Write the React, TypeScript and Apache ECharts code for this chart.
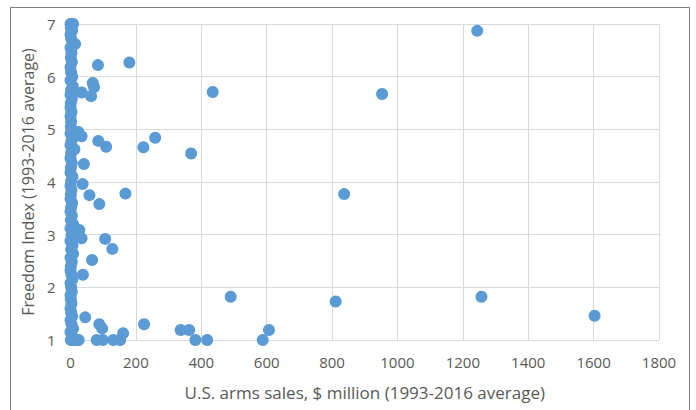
import React, { useEffect, useRef } from "react";
import * as echarts from "echarts";

// U.S. arms sales ($ million) vs Freedom Index
const armsSales: number[] = [
  1244, 953, 837, 811, 1257, 1603, 607, 588,
  435, 223, 259, 369,
  225, 337, 363, 382, 418, 490,
  84, 180, 68, 72, 34, 63,
  24, 34, 85, 109, 41, 37, 58, 168, 88,
  27, 34, 106, 128, 66, 38, 45, 88, 97, 161,
  80, 99, 131, 152, 25, 14,
  0, 3, 8, 1, 5, 0, 2, 6, 0, 3, 1, 4, 0, 2, 5, 0, 7, 2, 0, 4,
  1, 0, 3, 0, 2, 1, 5, 0, 8, 3, 0, 12, 2, 0, 4, 1, 0, 6, 2, 0,
  3, 1, 0, 5, 2, 0, 4, 1, 8, 0, 15, 3, 10, 0, 6, 2, 8, 0, 4, 1,
  0, 3, 6, 0, 2, 4, 0, 1, 3, 0, 2, 5, 0, 3, 8, 0, 4, 1, 7, 15,
];
const freedomIndex: number[] = [
  6.87, 5.67, 3.77, 1.73, 1.82, 1.46, 1.19, 1.0,
  5.71, 4.66, 4.84, 4.54,
  1.3, 1.19, 1.19, 1.0, 1.0, 1.82,
  6.22, 6.27, 5.88, 5.8, 5.7, 5.63,
  4.95, 4.87, 4.78, 4.67, 4.34, 3.96, 3.75, 3.78, 3.58,
  3.09, 2.93, 2.92, 2.73, 2.52, 2.24, 1.43, 1.3, 1.22, 1.13,
  1.0, 1.0, 1.0, 1.0, 1.0, 6.62,
  7.0, 7.0, 7.0, 6.93, 6.88, 6.8, 6.72, 6.6, 6.55, 6.45, 6.36, 6.28, 6.18, 6.08, 6.0, 5.93, 5.82, 5.75, 5.66, 5.58,
  5.5, 5.42, 5.33, 5.25, 5.15, 5.05, 4.98, 4.92, 4.85, 4.78, 4.7, 4.62, 4.55, 4.45, 4.36, 4.27, 4.18, 4.1, 4.02, 3.93,
  3.85, 3.76, 3.68, 3.6, 3.52, 3.44, 3.36, 3.28, 3.2, 3.12, 3.05, 3.0, 2.95, 2.88, 2.8, 2.72, 2.64, 2.56, 2.48, 2.4,
  2.32, 2.24, 2.16, 2.08, 2.0, 1.92, 1.85, 1.78, 1.7, 1.6, 1.52, 1.45, 1.38, 1.3, 1.22, 1.15, 1.08, 1.0, 1.0, 1.0,
];

const xAxisTitle = "U.S. arms sales, $ million (1993-2016 average)";
const yAxisTitle = "Freedom Index (1993-2016 average)";

const FONT = "'Open Sans', 'Noto Sans', sans-serif";
const TEXT_COLOR = "#595959";

export default function App() {
  const ref = useRef<HTMLDivElement>(null);

  useEffect(() => {
    if (!ref.current) return;
    const chart = echarts.init(ref.current, null, { renderer: "svg" });
    const data = armsSales.map((x, i) => [x, freedomIndex[i]]);
    chart.setOption({
      animation: false,
      backgroundColor: "#ffffff",
      grid: { left: 70.5, right: 37, top: 24, bottom: 70, containLabel: false },
      xAxis: {
        type: "value",
        min: 0,
        max: 1800,
        interval: 200,
        name: xAxisTitle,
        nameLocation: "middle",
        nameGap: 44,
        nameTextStyle: { color: TEXT_COLOR, fontSize: 17, fontFamily: FONT },
        axisLine: { show: false },
        axisTick: { show: false },
        axisLabel: {
          color: TEXT_COLOR,
          fontSize: 15,
          fontFamily: FONT,
          margin: 14,
          formatter: (v: number) => String(v),
        },
        splitLine: { show: true, lineStyle: { color: "#d9d9d9", width: 1 } },
      },
      yAxis: {
        type: "value",
        min: 1,
        max: 7,
        interval: 1,
        name: yAxisTitle,
        nameLocation: "middle",
        nameGap: 35,
        nameTextStyle: { color: TEXT_COLOR, fontSize: 16, fontFamily: FONT },
        axisLine: { show: false },
        axisTick: { show: false },
        axisLabel: { color: TEXT_COLOR, fontSize: 15, fontFamily: FONT, margin: 15 },
        splitLine: { show: true, lineStyle: { color: "#d9d9d9", width: 1 } },
      },
      graphic: [
        {
          type: "rect",
          shape: { x: 10.5, y: 7.5, width: 679, height: 410 },
          style: { fill: "none", stroke: "#7f7f7f", lineWidth: 1 },
          silent: true,
          z: -1,
        },
      ],
      series: [
        {
          type: "scatter",
          data,
          symbol: "circle",
          symbolSize: 12,
          itemStyle: { color: "#5b9bd5", opacity: 1 },
        },
      ],
    });
    return () => chart.dispose();
  }, []);

  return (
    <div
      ref={ref}
      style={{ position: "fixed", left: 0, top: 0, width: 696, height: 410 }}
    />
  );
}
